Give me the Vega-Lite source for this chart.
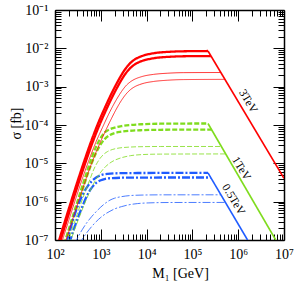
{
  "$schema": "https://vega.github.io/schema/vega-lite/v6.json",
  "width": 229,
  "height": 230,
  "autosize": "none",
  "padding": {"left": 55, "top": 10, "right": 11, "bottom": 45},
  "background": "white",
  "config": {
    "view": {"stroke": null},
    "font": "Liberation Serif",
    "axis": {
      "grid": false, "domainColor": "black", "domainWidth": 1.5, "tickColor": "black", "tickWidth": 1,
      "labelFont": "Liberation Serif", "labelFontSize": 14, "labelColor": "black",
      "titleFont": "Liberation Serif", "titleFontSize": 14, "titleFontWeight": "normal", "titleColor": "black",
      "labelFlush": false, "labelOverlap": false
    }
  },
  "datasets": {
    "curves": [
      {"E":"3TeV","id":"r1","t":"thick","M":115,"s":7.5e-8},{"E":"3TeV","id":"r1","t":"thick","M":122,"s":9.55e-8},{"E":"3TeV","id":"r1","t":"thick","M":158,"s":2.63e-7},{"E":"3TeV","id":"r1","t":"thick","M":224,"s":1.0e-6},{"E":"3TeV","id":"r1","t":"thick","M":316,"s":3.63e-6},{"E":"3TeV","id":"r1","t":"thick","M":447,"s":1.26e-5},{"E":"3TeV","id":"r1","t":"thick","M":631,"s":4.07e-5},{"E":"3TeV","id":"r1","t":"thick","M":891,"s":1.175e-4},{"E":"3TeV","id":"r1","t":"thick","M":1259,"s":3.02e-4},{"E":"3TeV","id":"r1","t":"thick","M":1778,"s":7.24e-4},{"E":"3TeV","id":"r1","t":"thick","M":2512,"s":1.585e-3},{"E":"3TeV","id":"r1","t":"thick","M":3162,"s":2.51e-3},{"E":"3TeV","id":"r1","t":"thick","M":3981,"s":3.63e-3},{"E":"3TeV","id":"r1","t":"thick","M":5012,"s":4.73e-3},{"E":"3TeV","id":"r1","t":"thick","M":6310,"s":5.62e-3},{"E":"3TeV","id":"r1","t":"thick","M":7943,"s":6.31e-3},{"E":"3TeV","id":"r1","t":"thick","M":10000,"s":6.84e-3},{"E":"3TeV","id":"r1","t":"thick","M":15850,"s":7.59e-3},{"E":"3TeV","id":"r1","t":"thick","M":31620,"s":8.13e-3},{"E":"3TeV","id":"r1","t":"thick","M":63100,"s":8.375e-3},{"E":"3TeV","id":"r1","t":"thick","M":219000,"s":8.51e-3},
      {"E":"3TeV","id":"r2","t":"thick","M":115,"s":5.56e-8},{"E":"3TeV","id":"r2","t":"thick","M":122,"s":7.08e-8},{"E":"3TeV","id":"r2","t":"thick","M":158,"s":1.95e-7},{"E":"3TeV","id":"r2","t":"thick","M":224,"s":7.41e-7},{"E":"3TeV","id":"r2","t":"thick","M":316,"s":2.69e-6},{"E":"3TeV","id":"r2","t":"thick","M":447,"s":9.34e-6},{"E":"3TeV","id":"r2","t":"thick","M":631,"s":3.02e-5},{"E":"3TeV","id":"r2","t":"thick","M":891,"s":8.71e-5},{"E":"3TeV","id":"r2","t":"thick","M":1259,"s":2.24e-4},{"E":"3TeV","id":"r2","t":"thick","M":1778,"s":5.36e-4},{"E":"3TeV","id":"r2","t":"thick","M":2512,"s":1.175e-3},{"E":"3TeV","id":"r2","t":"thick","M":3162,"s":1.86e-3},{"E":"3TeV","id":"r2","t":"thick","M":3981,"s":2.69e-3},{"E":"3TeV","id":"r2","t":"thick","M":5012,"s":3.5e-3},{"E":"3TeV","id":"r2","t":"thick","M":6310,"s":4.17e-3},{"E":"3TeV","id":"r2","t":"thick","M":7943,"s":4.68e-3},{"E":"3TeV","id":"r2","t":"thick","M":10000,"s":5.07e-3},{"E":"3TeV","id":"r2","t":"thick","M":15850,"s":5.62e-3},{"E":"3TeV","id":"r2","t":"thick","M":31620,"s":6.02e-3},{"E":"3TeV","id":"r2","t":"thick","M":63100,"s":6.21e-3},{"E":"3TeV","id":"r2","t":"thick","M":254000,"s":6.3e-3},
      {"E":"3TeV","id":"r3","t":"thin","M":141,"s":8.71e-8},{"E":"3TeV","id":"r3","t":"thin","M":158,"s":1.35e-7},{"E":"3TeV","id":"r3","t":"thin","M":200,"s":3.24e-7},{"E":"3TeV","id":"r3","t":"thin","M":282,"s":1.175e-6},{"E":"3TeV","id":"r3","t":"thin","M":398,"s":4.07e-6},{"E":"3TeV","id":"r3","t":"thin","M":562,"s":1.29e-5},{"E":"3TeV","id":"r3","t":"thin","M":794,"s":3.72e-5},{"E":"3TeV","id":"r3","t":"thin","M":1122,"s":9.33e-5},{"E":"3TeV","id":"r3","t":"thin","M":1585,"s":2.24e-4},{"E":"3TeV","id":"r3","t":"thin","M":2239,"s":4.79e-4},{"E":"3TeV","id":"r3","t":"thin","M":2818,"s":7.41e-4},{"E":"3TeV","id":"r3","t":"thin","M":3548,"s":1.06e-3},{"E":"3TeV","id":"r3","t":"thin","M":4467,"s":1.35e-3},{"E":"3TeV","id":"r3","t":"thin","M":5623,"s":1.585e-3},{"E":"3TeV","id":"r3","t":"thin","M":7079,"s":1.76e-3},{"E":"3TeV","id":"r3","t":"thin","M":8913,"s":1.905e-3},{"E":"3TeV","id":"r3","t":"thin","M":14130,"s":2.09e-3},{"E":"3TeV","id":"r3","t":"thin","M":28180,"s":2.24e-3},{"E":"3TeV","id":"r3","t":"thin","M":63100,"s":2.32e-3},{"E":"3TeV","id":"r3","t":"thin","M":417000,"s":2.34e-3},
      {"E":"3TeV","id":"r4","t":"thin","M":158,"s":6.92e-8},{"E":"3TeV","id":"r4","t":"thin","M":200,"s":1.66e-7},{"E":"3TeV","id":"r4","t":"thin","M":282,"s":6.03e-7},{"E":"3TeV","id":"r4","t":"thin","M":398,"s":2.09e-6},{"E":"3TeV","id":"r4","t":"thin","M":562,"s":6.92e-6},{"E":"3TeV","id":"r4","t":"thin","M":794,"s":2.0e-5},{"E":"3TeV","id":"r4","t":"thin","M":1122,"s":5.13e-5},{"E":"3TeV","id":"r4","t":"thin","M":1585,"s":1.23e-4},{"E":"3TeV","id":"r4","t":"thin","M":2239,"s":2.75e-4},{"E":"3TeV","id":"r4","t":"thin","M":2818,"s":4.37e-4},{"E":"3TeV","id":"r4","t":"thin","M":3548,"s":6.38e-4},{"E":"3TeV","id":"r4","t":"thin","M":4467,"s":8.41e-4},{"E":"3TeV","id":"r4","t":"thin","M":5623,"s":1.01e-3},{"E":"3TeV","id":"r4","t":"thin","M":7079,"s":1.135e-3},{"E":"3TeV","id":"r4","t":"thin","M":8913,"s":1.236e-3},{"E":"3TeV","id":"r4","t":"thin","M":14130,"s":1.365e-3},{"E":"3TeV","id":"r4","t":"thin","M":28180,"s":1.47e-3},{"E":"3TeV","id":"r4","t":"thin","M":63100,"s":1.53e-3},{"E":"3TeV","id":"r4","t":"thin","M":513000,"s":1.55e-3},
      {"E":"1TeV","id":"g1","t":"thick","M":158,"s":7.94e-8},{"E":"1TeV","id":"g1","t":"thick","M":200,"s":1.905e-7},{"E":"1TeV","id":"g1","t":"thick","M":251,"s":4.57e-7},{"E":"1TeV","id":"g1","t":"thick","M":316,"s":1.096e-6},{"E":"1TeV","id":"g1","t":"thick","M":398,"s":2.63e-6},{"E":"1TeV","id":"g1","t":"thick","M":501,"s":6.17e-6},{"E":"1TeV","id":"g1","t":"thick","M":631,"s":1.38e-5},{"E":"1TeV","id":"g1","t":"thick","M":794,"s":2.75e-5},{"E":"1TeV","id":"g1","t":"thick","M":1000,"s":4.68e-5},{"E":"1TeV","id":"g1","t":"thick","M":1259,"s":6.61e-5},{"E":"1TeV","id":"g1","t":"thick","M":1585,"s":7.76e-5},{"E":"1TeV","id":"g1","t":"thick","M":1995,"s":8.51e-5},{"E":"1TeV","id":"g1","t":"thick","M":2818,"s":9.33e-5},{"E":"1TeV","id":"g1","t":"thick","M":4467,"s":1.0e-4},{"E":"1TeV","id":"g1","t":"thick","M":7943,"s":1.047e-4},{"E":"1TeV","id":"g1","t":"thick","M":19950,"s":1.08e-4},{"E":"1TeV","id":"g1","t":"thick","M":219000,"s":1.096e-4},
      {"E":"1TeV","id":"g2","t":"thick","M":166,"s":7.94e-8},{"E":"1TeV","id":"g2","t":"thick","M":200,"s":1.585e-7},{"E":"1TeV","id":"g2","t":"thick","M":251,"s":3.72e-7},{"E":"1TeV","id":"g2","t":"thick","M":316,"s":8.71e-7},{"E":"1TeV","id":"g2","t":"thick","M":398,"s":2.04e-6},{"E":"1TeV","id":"g2","t":"thick","M":501,"s":4.68e-6},{"E":"1TeV","id":"g2","t":"thick","M":631,"s":1.0e-5},{"E":"1TeV","id":"g2","t":"thick","M":794,"s":1.905e-5},{"E":"1TeV","id":"g2","t":"thick","M":1000,"s":3.16e-5},{"E":"1TeV","id":"g2","t":"thick","M":1259,"s":4.47e-5},{"E":"1TeV","id":"g2","t":"thick","M":1585,"s":5.5e-5},{"E":"1TeV","id":"g2","t":"thick","M":1995,"s":6.17e-5},{"E":"1TeV","id":"g2","t":"thick","M":2818,"s":6.68e-5},{"E":"1TeV","id":"g2","t":"thick","M":4467,"s":7.08e-5},{"E":"1TeV","id":"g2","t":"thick","M":7943,"s":7.33e-5},{"E":"1TeV","id":"g2","t":"thick","M":19950,"s":7.5e-5},{"E":"1TeV","id":"g2","t":"thick","M":263000,"s":7.59e-5},
      {"E":"1TeV","id":"g3","t":"thin","M":186,"s":7.94e-8},{"E":"1TeV","id":"g3","t":"thin","M":224,"s":1.585e-7},{"E":"1TeV","id":"g3","t":"thin","M":282,"s":3.55e-7},{"E":"1TeV","id":"g3","t":"thin","M":355,"s":7.94e-7},{"E":"1TeV","id":"g3","t":"thin","M":447,"s":1.7e-6},{"E":"1TeV","id":"g3","t":"thin","M":562,"s":3.47e-6},{"E":"1TeV","id":"g3","t":"thin","M":708,"s":7.08e-6},{"E":"1TeV","id":"g3","t":"thin","M":891,"s":1.175e-5},{"E":"1TeV","id":"g3","t":"thin","M":1122,"s":1.66e-5},{"E":"1TeV","id":"g3","t":"thin","M":1413,"s":2.04e-5},{"E":"1TeV","id":"g3","t":"thin","M":1778,"s":2.29e-5},{"E":"1TeV","id":"g3","t":"thin","M":2512,"s":2.51e-5},{"E":"1TeV","id":"g3","t":"thin","M":3981,"s":2.64e-5},{"E":"1TeV","id":"g3","t":"thin","M":7943,"s":2.72e-5},{"E":"1TeV","id":"g3","t":"thin","M":19950,"s":2.75e-5},{"E":"1TeV","id":"g3","t":"thin","M":437000,"s":2.75e-5},
      {"E":"1TeV","id":"g4","t":"thin","M":209,"s":7.94e-8},{"E":"1TeV","id":"g4","t":"thin","M":251,"s":1.51e-7},{"E":"1TeV","id":"g4","t":"thin","M":316,"s":3.16e-7},{"E":"1TeV","id":"g4","t":"thin","M":398,"s":6.46e-7},{"E":"1TeV","id":"g4","t":"thin","M":501,"s":1.26e-6},{"E":"1TeV","id":"g4","t":"thin","M":631,"s":2.34e-6},{"E":"1TeV","id":"g4","t":"thin","M":794,"s":3.89e-6},{"E":"1TeV","id":"g4","t":"thin","M":1000,"s":5.89e-6},{"E":"1TeV","id":"g4","t":"thin","M":1259,"s":8.13e-6},{"E":"1TeV","id":"g4","t":"thin","M":1585,"s":1.02e-5},{"E":"1TeV","id":"g4","t":"thin","M":1995,"s":1.2e-5},{"E":"1TeV","id":"g4","t":"thin","M":2818,"s":1.4e-5},{"E":"1TeV","id":"g4","t":"thin","M":4467,"s":1.585e-5},{"E":"1TeV","id":"g4","t":"thin","M":7943,"s":1.69e-5},{"E":"1TeV","id":"g4","t":"thin","M":19950,"s":1.74e-5},{"E":"1TeV","id":"g4","t":"thin","M":546000,"s":1.76e-5},
      {"E":"0.5TeV","id":"b1","t":"thick","M":174,"s":7.94e-8},{"E":"0.5TeV","id":"b1","t":"thick","M":200,"s":1.41e-7},{"E":"0.5TeV","id":"b1","t":"thick","M":251,"s":3.55e-7},{"E":"0.5TeV","id":"b1","t":"thick","M":316,"s":7.94e-7},{"E":"0.5TeV","id":"b1","t":"thick","M":398,"s":1.48e-6},{"E":"0.5TeV","id":"b1","t":"thick","M":501,"s":2.4e-6},{"E":"0.5TeV","id":"b1","t":"thick","M":631,"s":3.39e-6},{"E":"0.5TeV","id":"b1","t":"thick","M":794,"s":4.27e-6},{"E":"0.5TeV","id":"b1","t":"thick","M":1000,"s":4.9e-6},{"E":"0.5TeV","id":"b1","t":"thick","M":1413,"s":5.31e-6},{"E":"0.5TeV","id":"b1","t":"thick","M":2512,"s":5.52e-6},{"E":"0.5TeV","id":"b1","t":"thick","M":10000,"s":5.6e-6},{"E":"0.5TeV","id":"b1","t":"thick","M":219000,"s":5.62e-6},
      {"E":"0.5TeV","id":"b2","t":"thick","M":204,"s":7.94e-8},{"E":"0.5TeV","id":"b2","t":"thick","M":251,"s":1.74e-7},{"E":"0.5TeV","id":"b2","t":"thick","M":316,"s":3.8e-7},{"E":"0.5TeV","id":"b2","t":"thick","M":398,"s":7.59e-7},{"E":"0.5TeV","id":"b2","t":"thick","M":501,"s":1.445e-6},{"E":"0.5TeV","id":"b2","t":"thick","M":631,"s":2.29e-6},{"E":"0.5TeV","id":"b2","t":"thick","M":794,"s":3.09e-6},{"E":"0.5TeV","id":"b2","t":"thick","M":1000,"s":3.63e-6},{"E":"0.5TeV","id":"b2","t":"thick","M":1259,"s":3.94e-6},{"E":"0.5TeV","id":"b2","t":"thick","M":1778,"s":4.12e-6},{"E":"0.5TeV","id":"b2","t":"thick","M":3162,"s":4.22e-6},{"E":"0.5TeV","id":"b2","t":"thick","M":10000,"s":4.26e-6},{"E":"0.5TeV","id":"b2","t":"thick","M":251000,"s":4.27e-6},
      {"E":"0.5TeV","id":"b3","t":"thin","M":263,"s":7.59e-8},{"E":"0.5TeV","id":"b3","t":"thin","M":316,"s":1.175e-7},{"E":"0.5TeV","id":"b3","t":"thin","M":398,"s":1.905e-7},{"E":"0.5TeV","id":"b3","t":"thin","M":501,"s":2.88e-7},{"E":"0.5TeV","id":"b3","t":"thin","M":631,"s":4.07e-7},{"E":"0.5TeV","id":"b3","t":"thin","M":794,"s":5.5e-7},{"E":"0.5TeV","id":"b3","t":"thin","M":1000,"s":7.24e-7},{"E":"0.5TeV","id":"b3","t":"thin","M":1259,"s":9.12e-7},{"E":"0.5TeV","id":"b3","t":"thin","M":1585,"s":1.096e-6},{"E":"0.5TeV","id":"b3","t":"thin","M":1995,"s":1.23e-6},{"E":"0.5TeV","id":"b3","t":"thin","M":2818,"s":1.35e-6},{"E":"0.5TeV","id":"b3","t":"thin","M":4467,"s":1.445e-6},{"E":"0.5TeV","id":"b3","t":"thin","M":7943,"s":1.486e-6},{"E":"0.5TeV","id":"b3","t":"thin","M":19950,"s":1.507e-6},{"E":"0.5TeV","id":"b3","t":"thin","M":422000,"s":1.51e-6},
      {"E":"0.5TeV","id":"b4","t":"thin","M":331,"s":7.59e-8},{"E":"0.5TeV","id":"b4","t":"thin","M":398,"s":1.07e-7},{"E":"0.5TeV","id":"b4","t":"thin","M":501,"s":1.585e-7},{"E":"0.5TeV","id":"b4","t":"thin","M":631,"s":2.24e-7},{"E":"0.5TeV","id":"b4","t":"thin","M":794,"s":3.02e-7},{"E":"0.5TeV","id":"b4","t":"thin","M":1000,"s":3.89e-7},{"E":"0.5TeV","id":"b4","t":"thin","M":1259,"s":4.79e-7},{"E":"0.5TeV","id":"b4","t":"thin","M":1585,"s":5.62e-7},{"E":"0.5TeV","id":"b4","t":"thin","M":1995,"s":6.46e-7},{"E":"0.5TeV","id":"b4","t":"thin","M":2818,"s":7.41e-7},{"E":"0.5TeV","id":"b4","t":"thin","M":3981,"s":8.22e-7},{"E":"0.5TeV","id":"b4","t":"thin","M":6310,"s":8.91e-7},{"E":"0.5TeV","id":"b4","t":"thin","M":11220,"s":9.29e-7},{"E":"0.5TeV","id":"b4","t":"thin","M":31620,"s":9.51e-7},{"E":"0.5TeV","id":"b4","t":"thin","M":531000,"s":9.55e-7}
    ],
    "diag": [
      {"E":"3TeV","M":219000,"s":8.51e-3},{"E":"3TeV","M":10000000,"s":4.08e-6},
      {"E":"1TeV","M":219000,"s":1.096e-4},{"E":"1TeV","M":6600000,"s":1.0e-7},
      {"E":"0.5TeV","M":219000,"s":5.62e-6},{"E":"0.5TeV","M":1600000,"s":1.0e-7}
    ],
    "labels": [
      {"E":"3TeV","M":1620000,"s":4.1e-4,"text":"3TeV"},
      {"E":"1TeV","M":1150000,"s":7.2e-6,"text":"1TeV"},
      {"E":"0.5TeV","M":776000,"s":1.12e-6,"text":"0.5TeV"}
    ]
  },
  "layer": [
    {
      "data": {"name": "curves"},
      "transform": [{"filter": "datum.t === 'thick'"}],
      "mark": {"type": "line", "clip": true, "strokeWidth": 2.3, "interpolate": "monotone"},
      "encoding": {
        "x": {"field": "M", "type": "quantitative", "scale": {"type": "log", "domain": [100, 10000000], "nice": false},
          "axis": {"orient": "bottom", "values": [100, 1000, 10000, 100000, 1000000, 10000000], "tickSize": -11, "labelPadding": 18,
            "labelExpr": "'10' + (round(log(datum.value)/LN10) < 0 ? '⁻' : '') + ['⁰','¹','²','³','⁴','⁵','⁶','⁷','⁸','⁹'][abs(round(log(datum.value)/LN10))]",
            "title": "M₁ [GeV]", "titleX": 125, "titleY": 37, "titleBaseline": "alphabetic", "titleAlign": "center"}},
        "y": {"field": "s", "type": "quantitative", "scale": {"type": "log", "domain": [1e-7, 0.1], "nice": false},
          "axis": {"orient": "left", "values": [1e-7, 1e-6, 1e-5, 1e-4, 1e-3, 1e-2, 1e-1], "tickSize": -11, "labelPadding": 18,
            "labelExpr": "'10' + (round(log(datum.value)/LN10) < 0 ? '⁻' : '') + ['⁰','¹','²','³','⁴','⁵','⁶','⁷','⁸','⁹'][abs(round(log(datum.value)/LN10))]",
            "title": "σ [fb]", "titleX": -35, "titleY": 113, "titleBaseline": "alphabetic", "titleAlign": "center"}},
        "color": {"field": "E", "type": "nominal", "scale": {"domain": ["3TeV", "1TeV", "0.5TeV"], "range": ["#ff0000", "#7fdc1e", "#1f5cff"]}, "legend": null},
        "strokeDash": {"field": "E", "type": "nominal", "scale": {"domain": ["3TeV", "1TeV", "0.5TeV"], "range": [[1, 0], [5, 2], [8, 2, 2, 2]]}, "legend": null},
        "detail": {"field": "id", "type": "nominal"}
      }
    },
    {
      "data": {"name": "curves"},
      "transform": [{"filter": "datum.t === 'thin'"}],
      "mark": {"type": "line", "clip": true, "strokeWidth": 1, "opacity": 0.8, "interpolate": "monotone"},
      "encoding": {
        "x": {"field": "M", "type": "quantitative", "scale": {"type": "log", "domain": [100, 10000000], "nice": false},
          "axis": {"orient": "bottom", "values": [200,300,400,500,600,700,800,900,2000,3000,4000,5000,6000,7000,8000,9000,20000,30000,40000,50000,60000,70000,80000,90000,200000,300000,400000,500000,600000,700000,800000,900000,2000000,3000000,4000000,5000000,6000000,7000000,8000000,9000000], "tickSize": -6, "labels": false, "domain": false, "title": null}},
        "y": {"field": "s", "type": "quantitative", "scale": {"type": "log", "domain": [1e-7, 0.1], "nice": false},
          "axis": {"orient": "left", "values": [2e-7,3e-7,4e-7,5e-7,6e-7,7e-7,8e-7,9e-7,2e-6,3e-6,4e-6,5e-6,6e-6,7e-6,8e-6,9e-6,2e-5,3e-5,4e-5,5e-5,6e-5,7e-5,8e-5,9e-5,2e-4,3e-4,4e-4,5e-4,6e-4,7e-4,8e-4,9e-4,2e-3,3e-3,4e-3,5e-3,6e-3,7e-3,8e-3,9e-3,2e-2,3e-2,4e-2,5e-2,6e-2,7e-2,8e-2,9e-2], "tickSize": -6, "labels": false, "domain": false, "title": null}},
        "color": {"field": "E", "type": "nominal", "scale": {"domain": ["3TeV", "1TeV", "0.5TeV"], "range": ["#ff0000", "#7fdc1e", "#1f5cff"]}, "legend": null},
        "strokeDash": {"field": "E", "type": "nominal", "scale": {"domain": ["3TeV", "1TeV", "0.5TeV"], "range": [[1, 0], [5, 2], [8, 2, 2, 2]]}, "legend": null},
        "detail": {"field": "id", "type": "nominal"}
      }
    },
    {
      "data": {"name": "diag"},
      "mark": {"type": "line", "clip": true, "strokeWidth": 1.6},
      "encoding": {
        "x": {"field": "M", "type": "quantitative", "scale": {"type": "log", "domain": [100, 10000000], "nice": false},
          "axis": {"orient": "top", "values": [100, 1000, 10000, 100000, 1000000, 10000000], "tickSize": -11, "labels": false, "title": null}},
        "y": {"field": "s", "type": "quantitative", "scale": {"type": "log", "domain": [1e-7, 0.1], "nice": false},
          "axis": {"orient": "right", "values": [1e-7, 1e-6, 1e-5, 1e-4, 1e-3, 1e-2, 1e-1], "tickSize": -11, "labels": false, "title": null}},
        "color": {"field": "E", "type": "nominal", "scale": {"domain": ["3TeV", "1TeV", "0.5TeV"], "range": ["#ff0000", "#7fdc1e", "#1f5cff"]}, "legend": null},
        "detail": {"field": "E", "type": "nominal"}
      }
    },
    {
      "data": {"name": "labels"},
      "mark": {"type": "text", "angle": 59, "font": "Liberation Serif", "fontSize": 11.5, "color": "black", "align": "center", "baseline": "middle"},
      "encoding": {
        "x": {"field": "M", "type": "quantitative", "scale": {"type": "log", "domain": [100, 10000000], "nice": false},
          "axis": {"orient": "top", "values": [200,300,400,500,600,700,800,900,2000,3000,4000,5000,6000,7000,8000,9000,20000,30000,40000,50000,60000,70000,80000,90000,200000,300000,400000,500000,600000,700000,800000,900000,2000000,3000000,4000000,5000000,6000000,7000000,8000000,9000000], "tickSize": -6, "labels": false, "domain": false, "title": null}},
        "y": {"field": "s", "type": "quantitative", "scale": {"type": "log", "domain": [1e-7, 0.1], "nice": false},
          "axis": {"orient": "right", "values": [2e-7,3e-7,4e-7,5e-7,6e-7,7e-7,8e-7,9e-7,2e-6,3e-6,4e-6,5e-6,6e-6,7e-6,8e-6,9e-6,2e-5,3e-5,4e-5,5e-5,6e-5,7e-5,8e-5,9e-5,2e-4,3e-4,4e-4,5e-4,6e-4,7e-4,8e-4,9e-4,2e-3,3e-3,4e-3,5e-3,6e-3,7e-3,8e-3,9e-3,2e-2,3e-2,4e-2,5e-2,6e-2,7e-2,8e-2,9e-2], "tickSize": -6, "labels": false, "domain": false, "title": null}},
        "text": {"field": "text", "type": "nominal"}
      }
    }
  ],
  "resolve": {"axis": {"x": "independent", "y": "independent"}}
}
